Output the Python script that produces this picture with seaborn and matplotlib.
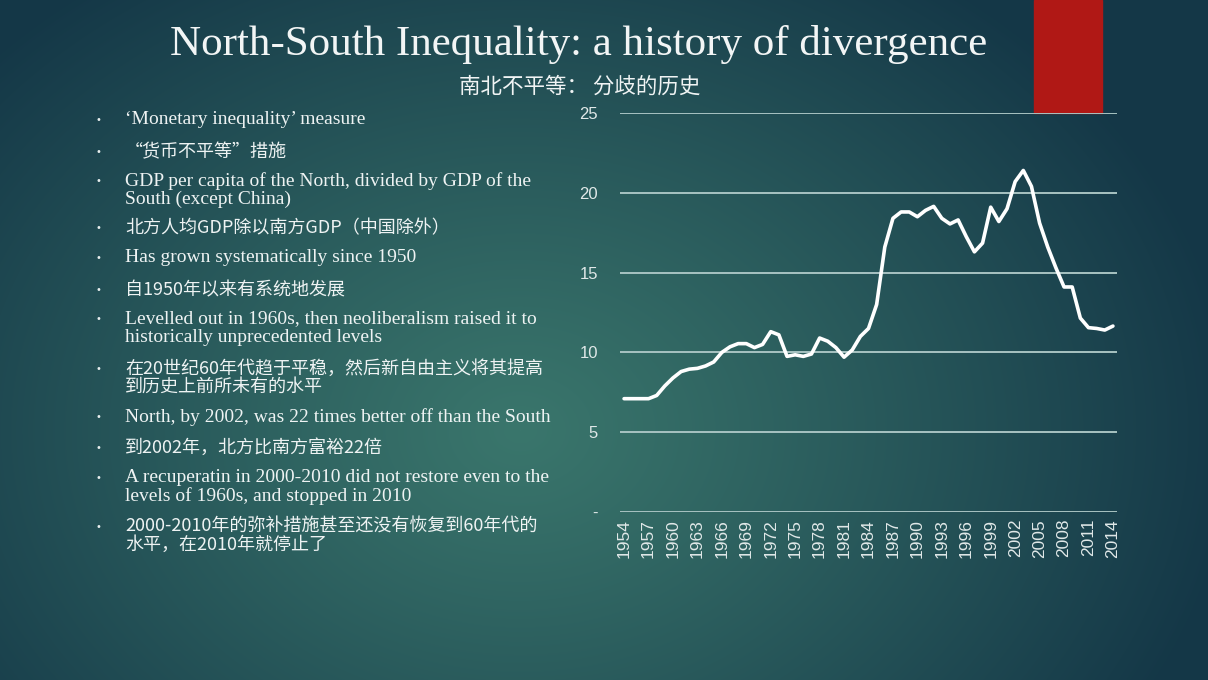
import numpy as np
import pandas as pd
import seaborn as sns
import matplotlib.pyplot as plt
from matplotlib.colors import to_rgb
from matplotlib.patches import Rectangle

# -----------------------------
# Data (ratio of GDP per capita, North / South)
# -----------------------------
years = list(range(1954, 2015))
ratio = [7.1, 7.1, 7.1, 7.1, 7.3, 7.9, 8.4, 8.8, 8.95, 9.0,
         9.15, 9.4, 10.0, 10.35, 10.55, 10.55, 10.3, 10.5, 11.3, 11.1,
         9.75, 9.85, 9.75, 9.9, 10.9, 10.7, 10.3, 9.7, 10.15, 11.0,
         11.5, 13.0, 16.6, 18.4, 18.8, 18.8, 18.5, 18.9, 19.15, 18.4,
         18.05, 18.3, 17.25, 16.3, 16.85, 19.1, 18.2, 19.0, 20.7, 21.4,
         20.4, 18.1, 16.6, 15.3, 14.1, 14.1, 12.15, 11.55, 11.5, 11.4,
         11.65]

xtick_years = list(range(1954, 2015, 3))
ytick_vals = [0, 5, 10, 15, 20, 25]
ytick_labels = ["-", "5", "10", "15", "20", "25"]

title = "North-South Inequality: a history of divergence"
subtitle = "南北不平等： 分歧的历史"

# (lines, y pixel of first line, is_chinese)
bullets = [
    (["\u2018Monetary inequality\u2019 measure"], 120, False),
    (["\u201c货币不平等\u201d措施"], 152, True),
    (["GDP per capita of the North, divided by GDP of the",
      "South (except China)"], 181, False),
    (["北方人均GDP除以南方GDP（中国除外）"], 228, True),
    (["Has grown systematically since 1950"], 258, False),
    (["自1950年以来有系统地发展"], 290, True),
    (["Levelled out in 1960s, then neoliberalism raised it to",
      "historically unprecedented levels"], 319, False),
    (["在20世纪60年代趋于平稳，然后新自由主义将其提高",
      "到历史上前所未有的水平"], 369, True),
    (["North, by 2002, was 22 times better off than the South"], 417, False),
    (["到2002年，北方比南方富裕22倍"], 448, True),
    (["A recuperatin in 2000-2010 did not restore even to the",
      "levels of 1960s, and stopped in 2010"], 478, False),
    (["2000-2010年的弥补措施甚至还没有恢复到60年代的",
      "水平，在2010年就停止了"], 527, True),
]

df = pd.DataFrame({"year": years, "ratio": ratio})

# -----------------------------
# Figure + background
# -----------------------------
sns.set_style("white")
plt.rcParams['font.family'] = ['DejaVu Sans']

W, H = 1208, 680
fig = plt.figure(figsize=(W / 100, H / 100), dpi=100)

bg = fig.add_axes([0, 0, 1, 1], zorder=0)
yy, xx = np.mgrid[0:H, 0:W]
d = np.sqrt(((xx - 520) / 720.0) ** 2 + ((yy - 430) / 560.0) ** 2)
t = np.clip(d, 0, 1)[..., None] ** 1.1
light = np.array(to_rgb("#3a766c"))
dark = np.array(to_rgb("#143747"))
img = light * (1 - t) + dark * t
bg.imshow(img, aspect="auto", extent=[0, W, H, 0])
bg.set_xlim(0, W)
bg.set_ylim(H, 0)
bg.axis("off")

# red tab at top right
fig.patches.append(Rectangle((1034 / W, 1 - 113 / H), 68 / W, 113 / H,
                             transform=fig.transFigure, color="#b01815",
                             zorder=1))

# -----------------------------
# Chart
# -----------------------------
ax = fig.add_axes([620 / W, 1 - 512 / H, 497 / W, 399 / H], zorder=2)
ax.patch.set_alpha(0)
for y in ytick_vals:
    ax.axhline(y, color="#a8c3c2", lw=1.4, zorder=1)
sns.lineplot(data=df, x="year", y="ratio", ax=ax, color="white", lw=2.6,
             zorder=3)

ax.set_xlim(1953.5, 2014.5)
ax.set_ylim(0, 25)
ax.set_xticks(xtick_years)
ax.set_xticklabels([str(y) for y in xtick_years], rotation=90,
                   fontsize=12.5, color="#e0e8e8", family="Liberation Sans")
ax.set_yticks(ytick_vals)
ax.set_yticklabels(ytick_labels, fontsize=12, color="#e0e8e8",
                   family="Liberation Sans")
ax.tick_params(axis="y", length=0, pad=16)
ax.tick_params(axis="x", length=0, pad=5)
ax.set_xlabel("")
ax.set_ylabel("")
sns.despine(ax=ax, left=True, bottom=True)

# -----------------------------
# Title and bullet text
# -----------------------------
fig.text(579 / W, 1 - 45 / H, title, ha="center", va="center",
         fontsize=31, color="#f2f5f5", family="Liberation Serif", zorder=4)
fig.text(580 / W, 1 - 87 / H, subtitle, ha="center", va="center",
         fontsize=15.5, color="#f0f4f4", family=["Noto Sans CJK SC"],
         zorder=4)

for lines, y0, zh in bullets:
    fig.text(98 / W, 1 - y0 / H, "\u2022", ha="center", va="center",
             fontsize=7, color="#e8eeee", zorder=4)
    for i, line in enumerate(lines):
        ypix = y0 + i * 18
        if zh:
            fig.text(125 / W, 1 - ypix / H, line, ha="left", va="center",
                     fontsize=13, color="#eef3f3",
                     family=["Noto Sans CJK SC", "DejaVu Sans"], zorder=4)
        else:
            fig.text(125 / W, 1 - ypix / H, line, ha="left", va="center",
                     fontsize=14, color="#eef3f3",
                     family="Liberation Serif", zorder=4)

fig.savefig("out.png", dpi=100)
